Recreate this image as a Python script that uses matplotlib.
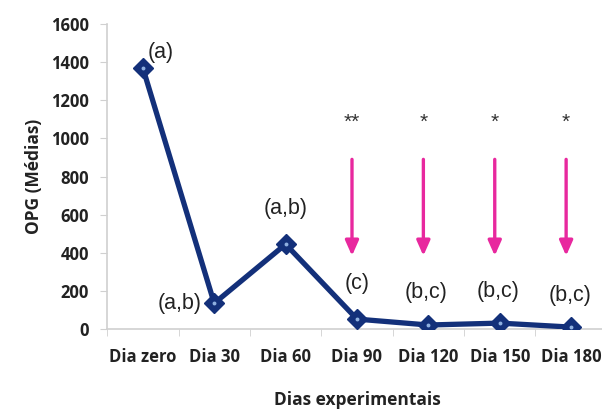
import matplotlib.pyplot as plt
import numpy as np

dias = ['Dia zero', 'Dia 30', 'Dia 60', 'Dia 90', 'Dia 120', 'Dia 150', 'Dia 180']
opg = [1370, 135, 445, 52, 21, 31, 10]
letras = ['(a)', '(a,b)', '(a,b)', '(c)', '(b,c)', '(b,c)', '(b,c)']
asteriscos = ['', '', '', '**', '*', '*', '*']

navy = '#13307a'
magenta = '#e8289e'
cal = 'Open Sans'

fig = plt.figure(figsize=(6.02, 4.17), dpi=100)
ax = fig.add_axes([0.178, 0.211, 0.83, 0.731])
x = np.arange(len(dias))

ax.plot(x, opg, color=navy, lw=3.8, marker='D', ms=10,
        mfc=navy, mec=navy, zorder=3)
ax.plot(x, opg, ls='none', marker='o', ms=2.8, mfc='#8fb0e0', mec='none', zorder=4)

# letter labels
offsets = [(0.07, 80), (-0.18, 0), (0, 190), (0, 185), (-0.03, 170), (-0.03, 165), (-0.02, 165)]
for i, (lab, (dx, dy)) in enumerate(zip(letras, offsets)):
    ha = 'left' if i == 0 else ('right' if i == 1 else 'center')
    ax.text(x[i] + dx, opg[i] + dy, lab, ha=ha, va='center',
            fontsize=15.5, family='Liberation Sans', color='#222222')

# arrows and asterisks
for i, s in enumerate(asteriscos):
    if not s:
        continue
    ax.annotate('', xy=(x[i] - 0.07, 370), xytext=(x[i] - 0.07, 905),
                arrowprops=dict(arrowstyle='-|>,head_length=0.9,head_width=0.4',
                                color=magenta, lw=2.4))
    ax.text(x[i] - 0.07, 1085, s, ha='center', va='center', fontsize=15,
            family='Liberation Sans', color='#333333')

ax.set_xlim(-0.5, 6.5)
ax.set_ylim(0, 1600)
ax.set_yticks(range(0, 1601, 200))
ax.set_xticks(x)
ax.set_xticklabels(dias)
ax.set_xticks(np.arange(-0.5, 6.6, 1), minor=True)

for sp in ['top', 'right']:
    ax.spines[sp].set_visible(False)
for sp in ['left', 'bottom']:
    ax.spines[sp].set_color('#d0d0d0')
    ax.spines[sp].set_linewidth(1.2)

ax.tick_params(axis='x', which='major', length=0, pad=14)
ax.tick_params(axis='x', which='minor', length=5, color='#d0d0d0', direction='out')
ax.tick_params(axis='y', length=5, color='#d0d0d0', pad=8)
for lab in ax.get_xticklabels() + ax.get_yticklabels():
    lab.set_family(cal)
    lab.set_fontweight('bold')
    lab.set_fontsize(12)
    lab.set_color('#222222')

ax.set_xlabel('Dias experimentais', family=cal, fontweight='bold', fontsize=12.5,
              color='#222222', labelpad=18)
ax.set_ylabel('OPG (Médias)', family=cal, fontweight='bold', fontsize=12.5,
              color='#222222', labelpad=6)

fig.savefig('out.png', dpi=100)
